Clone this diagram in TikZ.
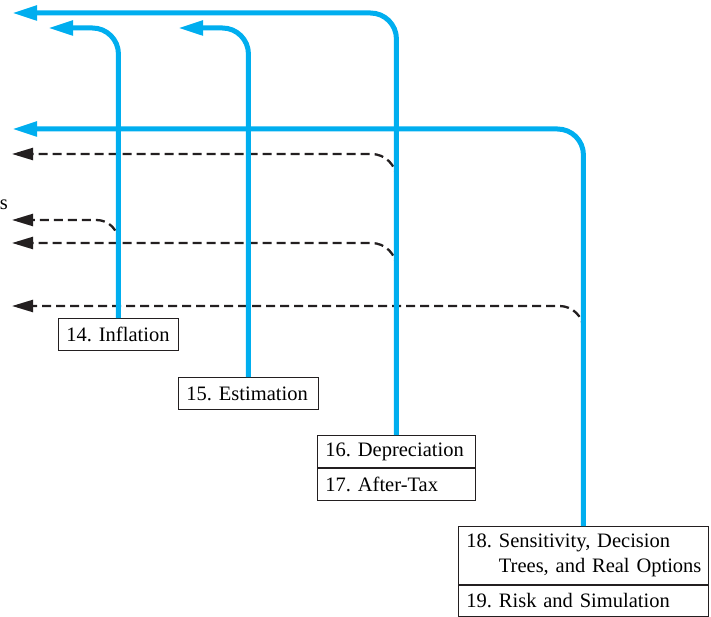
\documentclass[tikz,border=0pt]{standalone}
\usepackage{fontspec}
\setmainfont{Liberation Serif}
\usetikzlibrary{arrows.meta}
\definecolor{chapblue}{RGB}{0,174,239}
\definecolor{inkgray}{RGB}{35,31,32}
\begin{document}
\begin{tikzpicture}[x=1pt,y=-1pt,
	chapbox/.style={draw=inkgray,line width=0.9pt,fill=white,anchor=north west,inner xsep=8pt,inner ysep=0pt,
		align=left,font=\fontsize{20.5}{25}\selectfont\frenchspacing,minimum height=#1},
	flow/.style={chapblue,line width=5pt,rounded corners=26pt,-{Triangle[length=25pt,width=14pt]}},
	link/.style={inkgray,line width=2.3pt,dash pattern=on 9pt off 5pt,-{Triangle[length=21pt,width=12pt]}}]
		%chapter links
		\useasboundingbox (0,0) rectangle (711,617);
		\node[chapbox=32pt,text width=104pt] (infl) at (58,318) {\mbox{14. Inflation}};
		\node[chapbox=32pt,text width=124pt] (estim) at (178,377) {\mbox{15. Estimation}};
		\node[chapbox=32pt,text width=142pt] (depr) at (317,435) {\mbox{16. Depreciation}};
		\node[chapbox=32pt,text width=142pt] (aftax) at (depr.south west) {\mbox{17. After-Tax}};
		\node[chapbox=58pt,text width=234pt] (sens) at (458,526) {\mbox{18. Sensitivity, Decision}\\\mbox{\hphantom{18.\ }Trees, and Real Options}};
		\node[chapbox=31pt,text width=234pt] (risk) at (sens.south west) {\mbox{19. Risk and Simulation}};
		\node[anchor=base east,inner sep=0pt,font=\fontsize{20.5}{25}\selectfont] (cut) at (8,210) {s};
		% arrow ends
		\coordinate (tipA) at (12,13);
		\coordinate (tipB) at (48,28);
		\coordinate (tipC) at (178,28);
		\coordinate (tipD) at (12,129);
		\coordinate (dtipA) at (12,154);
		\coordinate (dtipB) at (12,220);
		\coordinate (dtipC) at (12,243);
		\coordinate (dtipD) at (12,306);
		\coordinate (joinA) at (depr.north |- 0,180);
		\coordinate (joinB) at (infl.north |- 0,244);
		\coordinate (joinC) at (depr.north |- 0,269);
		\coordinate (joinD) at (sens.north |- 0,330);
		% dashed links
		\draw [link,rounded corners=25pt] (joinA) |- (dtipA);
		\draw [link,rounded corners=22pt] (joinB) |- (dtipB);
		\draw [link,rounded corners=25pt] (joinC) |- (dtipC);
		\draw [link,rounded corners=24pt] (joinD) |- (dtipD);
		% main flows
		\draw [flow] (depr.north) |- (tipA);
		\draw [flow] (infl.north) |- (tipB);
		\draw [flow] (estim.north) |- (tipC);
		\draw [flow] (sens.north) |- (tipD);
\end{tikzpicture}
\end{document}
